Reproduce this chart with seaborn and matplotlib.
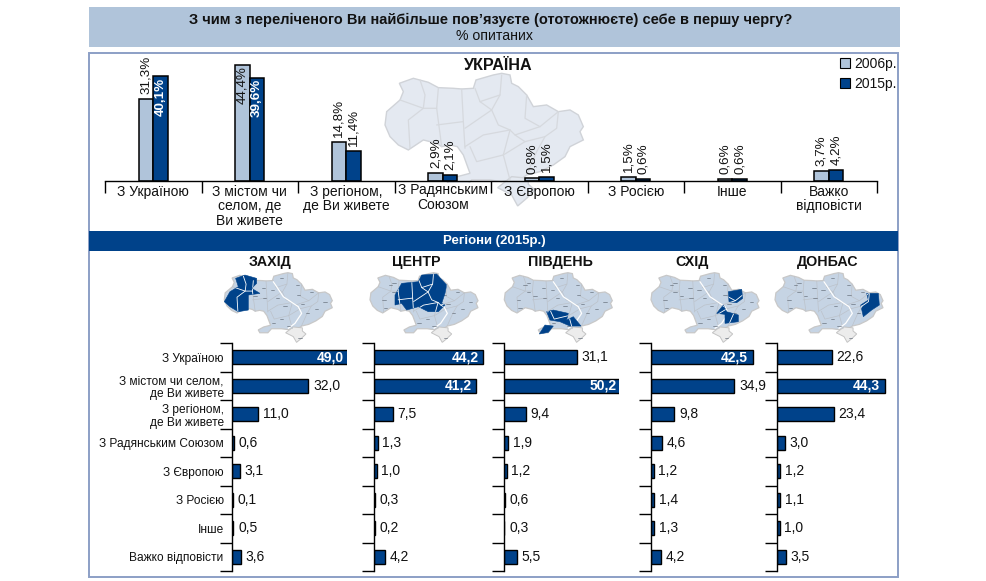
import matplotlib
matplotlib.use("Agg")
import matplotlib.pyplot as plt
from matplotlib.patches import Polygon, Rectangle, Patch
import numpy as np
import pandas as pd
import seaborn as sns

sns.set_theme(style="white")
plt.rcParams['font.family'] = ['Liberation Sans', 'DejaVu Sans']

TITLE = "З чим з переліченого Ви найбільше пов’язуєте (ототожнюєте) себе в першу чергу?"
SUBTITLE = "% опитаних"
BAND = "Регіони (2015р.)"
MAP_TITLE = "УКРАЇНА"

top_categories = ["З Україною", "З містом чи\nселом, де\nВи живете", "З регіоном,\nде Ви живете",
                  "З Радянським\nСоюзом", "З Європою", "З Росією", "Інше", "Важко\nвідповісти"]
years = ["2006р.", "2015р."]
values_2006 = [31.3, 44.4, 14.8, 2.9, 0.8, 1.5, 0.6, 3.7]
values_2015 = [40.1, 39.6, 11.4, 2.1, 1.5, 0.6, 0.6, 4.2]

region_categories = ["З Україною", "З містом чи селом,\nде Ви живете", "З регіоном,\nде Ви живете",
                     "З Радянським Союзом", "З Європою", "З Росією", "Інше", "Важко відповісти"]
regions = ["ЗАХІД", "ЦЕНТР", "ПІВДЕНЬ", "СХІД", "ДОНБАС"]
west = [49.0, 32.0, 11.0, 0.6, 3.1, 0.1, 0.5, 3.6]
centre = [44.2, 41.2, 7.5, 1.3, 1.0, 0.3, 0.2, 4.2]
south = [31.1, 50.2, 9.4, 1.9, 1.2, 0.6, 0.3, 5.5]
east = [42.5, 34.9, 9.8, 4.6, 1.2, 1.4, 1.3, 4.2]
donbas = [22.6, 44.3, 23.4, 3.0, 1.2, 1.1, 1.0, 3.5]
region_values = [west, centre, south, east, donbas]

# Decorative map geometry (shape of the backdrop, not data)
OUTLINE = [(88,55),(130,40),(175,52),(205,68),(250,70),(275,72),(310,70),(318,45),(370,30),(395,25),(420,30),
           (425,55),(445,65),(470,90),(490,125),(530,120),(565,140),(600,135),(625,150),(640,185),(630,200),
           (640,225),(600,245),(585,275),(550,300),(510,320),(470,330),(450,345),(425,345),(395,350),(360,345),
           (325,345),(305,345),(285,368),(241,368),(232,352),(262,335),(300,325),(280,270),(262,245),(240,240),
           (215,245),(200,235),(160,225),(115,255),(85,240),(60,215),(45,180),(50,140),(90,105),(100,80)]
CRIMEA = [(383,368),(425,335),(475,340),(475,358),(495,375),(470,400),(443,423),(425,390)]
BORDERS = [[(150,45),(165,90),(160,130),(115,165),(120,250)], [(90,105),(160,130),(200,130)],
           [(205,70),(200,130),(215,245)], [(275,72),(280,170),(285,250)], [(200,180),(280,170)],
           [(315,70),(330,110),(365,135),(285,190)], [(395,30),(390,90),(365,135),(385,180),(420,195),(400,270),(420,345)],
           [(470,90),(465,160),(510,185),(565,140)], [(510,185),(435,210),(420,195)], [(285,245),(340,210),(420,195)],
           [(565,140),(560,190),(525,215),(500,260),(470,330)], [(300,245),(320,290),(400,270)],
           [(435,210),(465,230),(525,215)], [(400,270),(465,230)], [(330,110),(390,90)]]
DNIPRO = [(175,95),(205,140),(250,170),(260,190),(240,220),(220,235)]
LABEL_MARKS = [(200,83),(248,105),(290,127),(330,155),(262,162),(278,190),(305,178),(210,168),(188,145),(145,115),
               (120,138),(148,145),(172,120),(250,135),(200,208),(175,218),(220,228),(255,265),(90,105),(100,125),
               (70,150),(75,175),(100,98)]
HIGHLIGHT = [
    [[(62,85),(90,75),(125,85),(125,100),(110,115),(135,130),(100,135),(100,180),(70,185),(45,170),(28,155),(45,125),(70,110)]],
    [[(103,135),(123,100),(173,95),(183,75),(228,72),(258,105),(253,130),(243,160),(253,165),(233,185),(203,185),(173,170),(138,180),(123,160),(103,165)]],
    [[(155,185),(175,180),(220,190),(215,210),(235,200),(258,228),(225,228),(195,215),(165,210)], [(133,252),(150,225),(175,228),(160,247)]],
    [[(260,125),(300,118),(303,145),(285,158),(262,155)], [(225,190),(245,165),(255,185),(290,195),(290,215),(250,220),(250,193)]],
    [[(303,130),(338,130),(341,165),(318,180),(293,200),(285,165),(308,150)]],
]

NAVY = "#00428a"
LIGHT = "#b0c4da"
W, H = 987, 581

fig = plt.figure(figsize=(W/100, H/100), dpi=100, facecolor="white")

def axpx(l, t, r, b, **kw):
    return fig.add_axes([l/W, 1-b/H, (r-l)/W, (b-t)/H], **kw)

bg = axpx(0, 0, W, H, zorder=-1)
bg.set_xlim(0, W); bg.set_ylim(H, 0); bg.axis("off")
bg.add_patch(Rectangle((89, 7), 811, 40, fc=LIGHT, ec="none"))
bg.add_patch(Rectangle((89, 53), 809, 524, fc="white", ec="#8c9fc6", lw=1.4))
bg.add_patch(Rectangle((89, 231), 809, 20, fc=NAVY, ec="none"))
bg.text(491, 20, TITLE, ha="center", va="center", fontsize=10.5, fontweight="bold", color="#111111")
bg.text(494, 35.5, SUBTITLE, ha="center", va="center", fontsize=10.2, color="#111111")
bg.text(494, 241, BAND, ha="center", va="center", fontsize=9.5, fontweight="bold", color="white")
bg.text(498, 65, MAP_TITLE, ha="center", va="center", fontsize=11.6, fontweight="bold", color="#111111")

def big(p):
    a = np.array(p, float)
    return np.c_[385 + (a[:,0]-45)/3, 73.3 + (a[:,1]-25)/3]

def small(p, left):
    a = np.array(p, float)
    return np.c_[left + (a[:,0]-45)/595*108, 272.7 + (a[:,1]-25)/413*72.3]

def zsmall(p, left):
    a = np.array(p, float)
    return np.c_[left + (a[:,0]-28)/3, 272.7 + (a[:,1]-68)/3]

# big backdrop map
bg.add_patch(Polygon(big(OUTLINE), fc="#e4e9f1", ec="#d0d3d8", lw=1.0))
bg.add_patch(Polygon(big(CRIMEA), fc="#e4e9f1", ec="#d0d3d8", lw=1.0))
for line in BORDERS:
    q = big(line)
    bg.plot(q[:,0], q[:,1], color="#d6d9de", lw=0.9)

# small region maps
for left, title, cx, hl in zip([224.3, 370, 504.3, 651, 775], regions, [270, 416, 560, 692, 828], HIGHLIGHT):
    bg.add_patch(Polygon(small(OUTLINE, left), fc="#c6d4e4", ec="#c8c8c8", lw=0.9))
    bg.add_patch(Polygon(small(CRIMEA, left), fc="#ececec", ec="#c4c4c4", lw=0.7))
    for line in BORDERS:
        q = small(line, left)
        bg.plot(q[:,0], q[:,1], color="#bcc2ca", lw=0.5)
    q = zsmall(DNIPRO, left)
    bg.plot(q[:,0], q[:,1], color="white", lw=0.9)
    for m in LABEL_MARKS:
        q = zsmall([m], left)[0]
        bg.plot([q[0]-1.6, q[0]+1.6], [q[1], q[1]], color="#6b7480", lw=0.5)
    for poly in hl:
        pg = Polygon(zsmall(poly, left), fc=NAVY, ec=NAVY, lw=0.4, zorder=4)
        bg.add_patch(pg)
        for line in BORDERS:
            q = small(line, left)
            ln, = bg.plot(q[:,0], q[:,1], color="white", lw=0.6, zorder=5)
            ln.set_clip_path(pg)
    bg.text(cx, 262, title, ha="center", va="center", fontsize=10.3, fontweight="bold", color="#111111")

# top chart
ax = axpx(105, 55, 877, 180.5)
ax.patch.set_visible(False)
df = pd.DataFrame({"category": top_categories * 2,
                   "value": values_2006 + values_2015,
                   "year": [years[0]]*8 + [years[1]]*8})
sns.barplot(data=df, x="category", y="value", hue="year", palette=[LIGHT, NAVY], saturation=1,
            edgecolor="black", linewidth=1.1, width=0.305, gap=0, ax=ax)
ax.set_xlim(-0.5, 7.5)
ax.set_ylim(0, 125.5/2.6)
ax.set_xlabel(""); ax.set_ylabel("")
for s in ["left", "right", "top"]:
    ax.spines[s].set_visible(False)
ax.spines["bottom"].set_color("black"); ax.spines["bottom"].set_linewidth(1.0)
ax.set_yticks([])
ax.set_xticks(np.arange(-0.5, 8, 1), [""]*9)
ax.set_xticks(np.arange(8), top_categories, minor=True)
ax.tick_params(axis="x", which="major", length=8.6, width=1.0, color="black", bottom=True)
ax.tick_params(axis="x", which="minor", length=0, pad=3.2, labelsize=10, labelcolor="#111111")
for lab in ax.get_xticklabels(minor=True):
    lab.set_linespacing(1.04)
    if "Радянським" in lab.get_text():
        lab.set_bbox(dict(fc="white", ec="none", pad=0.5))
        lab.set_y(0.012)

for cont, vals in zip(ax.containers, [values_2006, values_2015]):
    inside = cont is ax.containers[1]
    for bar, v in zip(cont, vals):
        txt = f"{v:.1f}".replace(".", ",") + "%"
        x = bar.get_x() + bar.get_width()/2
        if v > 39:
            if v == 31.3:
                continue
            ax.annotate(txt, (x, v), xytext=(0, -1), textcoords="offset points", rotation=90,
                        ha="center", va="top", fontsize=9.6, color="white" if inside else "#111111",
                        fontweight="bold" if inside else "normal", annotation_clip=False)
        else:
            ax.annotate(txt, (x, v), xytext=(0, 3.4), textcoords="offset points", rotation=90,
                        ha="center", va="bottom", fontsize=9.6, color="#111111", annotation_clip=False)

handles = [Patch(fc=LIGHT, ec="black", lw=0.8), Patch(fc=NAVY, ec="black", lw=0.8)]
ax.get_legend().remove()
fig.legend(handles, years, loc="upper left", bbox_to_anchor=(840/W, 1-57/H), frameon=False, fontsize=10,
           handlelength=0.72, handleheight=0.72, handletextpad=0.3, labelspacing=0.42, borderpad=0, borderaxespad=0,
           labelcolor="#111111")

# region panels
for i, (l, scale, vals) in enumerate(zip([232.3, 374.3, 503.7, 650.7, 777.3],
                                         [2.375, 2.47, 2.35, 2.4, 2.42], region_values)):
    a = axpx(l, 343, l+115, 571)
    a.patch.set_visible(False)
    frame = pd.DataFrame({"category": region_categories, "value": vals})
    sns.barplot(data=frame, y="category", x="value", orient="h", color=NAVY, saturation=1,
                edgecolor="black", linewidth=1.0, width=0.5, ax=a)
    a.set_xlim(0, 115/scale)
    a.set_ylim(7.5, -0.5)
    a.set_xlabel(""); a.set_ylabel("")
    for s in ["top", "right", "bottom"]:
        a.spines[s].set_visible(False)
    a.spines["left"].set_color("black"); a.spines["left"].set_linewidth(1.0)
    a.set_xticks([])
    a.set_yticks(np.arange(-0.5, 8, 1), [""]*9)
    a.tick_params(axis="y", which="major", length=8.6, width=1.0, color="black", left=True)
    if i == 0:
        a.set_yticks(np.arange(8), region_categories, minor=True)
        for lab in a.get_yticklabels(minor=True):
            lab.set_fontsize(8.6)
            lab.set_linespacing(1.1)
            lab.set_color("#111111")
            lab.set_multialignment("right")
        a.tick_params(axis="y", which="minor", length=0, pad=6.2)
    else:
        a.set_yticks([], minor=True)
    for bar, v in zip(a.containers[0], vals):
        txt = f"{v:.1f}".replace(".", ",")
        y = bar.get_y() + bar.get_height()/2
        if v > 41:
            a.annotate(txt, (v, y), xytext=(-3.4, 0), textcoords="offset points", ha="right", va="center",
                       fontsize=10, fontweight="bold", color="white", annotation_clip=False)
        else:
            a.annotate(txt, (v, y), xytext=(3.4, 0), textcoords="offset points", ha="left", va="center",
                       fontsize=10, color="#111111", annotation_clip=False)

fig.savefig("out.png", dpi=100)
